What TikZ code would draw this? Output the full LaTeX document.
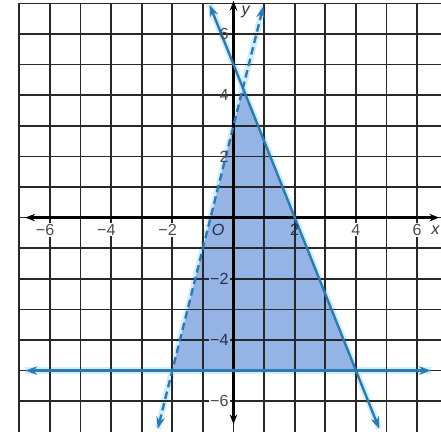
\documentclass[tikz,border=0pt]{standalone}
\usepackage{fontspec}
\setsansfont{Liberation Sans}
\usetikzlibrary{arrows.meta}
\definecolor{lineblue}{RGB}{42,122,180}
\definecolor{shadeblue}{RGB}{148,180,230}
\definecolor{glowblue}{RGB}{210,238,251}
\definecolor{gridc}{RGB}{40,40,40}
\definecolor{labc}{RGB}{75,75,75}
\definecolor{navylab}{RGB}{35,45,80}
\begin{document}
\begin{tikzpicture}[x=1cm,y=1cm,
  gridline/.style={gridc, line width=1.6pt},
  axisline/.style={black, line width=2.4pt, {Stealth[length=9pt,width=7pt]}-{Stealth[length=9pt,width=7pt]}},
  bound/.style={lineblue, line width=2.2pt, {Stealth[length=11pt,width=8pt]}-{Stealth[length=11pt,width=8pt]}},
  halo/.style={glowblue, line width=6pt},
  ticklab/.style={font=\fontsize{15}{15}\selectfont\sffamily, text=labc, inner sep=1pt},
  whitelab/.style={ticklab, fill=white},
  bluelab/.style={ticklab, fill=shadeblue, text=navylab},
  varlab/.style={font=\fontsize{15}{15}\selectfont\sffamily\itshape, text=black!80, inner sep=1pt}]
\useasboundingbox (-7.63,-7.30) rectangle (6.78,7.11);
\fill[white] (-7.63,-7.30) rectangle (6.78,7.11);

% end points of the boundary lines
\coordinate (sTop) at (-0.78,6.95);
\coordinate (sBot) at (4.76,-6.9);
\coordinate (dTop) at (0.975,6.9);
\coordinate (dBot) at (-2.475,-6.9);
\coordinate (hL) at (-6.8,-5);
\coordinate (hR) at (6.45,-5);
\coordinate (xL) at (-6.8,0);
\coordinate (xR) at (6.72,0);
\coordinate (yB) at (0,-6.75);
\coordinate (yT) at (0,7.08);

% vertices of the shaded region
\coordinate (vA) at (-2,-5);
\coordinate (vB) at (4,-5);
\coordinate (vC) at (0.3077,4.2308);

% soft glow round the boundary lines
\draw[halo] (sTop) -- (sBot);
\draw[halo] (dTop) -- (dBot);
\draw[halo] (hL) -- (hR);

% shaded region
\fill[shadeblue] (vA) -- (vB) -- (vC) -- cycle;

% grid
\foreach \i in {-7,...,6} \draw[gridline] (\i,-7) -- (\i,7);
\foreach \j in {-6,...,7} \draw[gridline] (-7,\j) -- (6.78,\j);

% axes
\draw[axisline] (xL) -- (xR);
\draw[axisline] (yB) -- (yT);

% labels lying in the shaded region (drawn before the boundary lines)
\node[bluelab, anchor=east] (ylm4) at (-0.12,-4) {−4};
\node[bluelab, anchor=east] (ylm2) at (-0.12,-2) {−2};

% boundary lines
\draw[bound] (hL) -- (hR);
\draw[bound] (sBot) -- (sTop);
\draw[bound, dash pattern=on 7pt off 4pt] (dBot) -- (dTop);

% x labels
\node[whitelab] (xlm6) at (-6,-0.4) {\llap{−}6};
\node[whitelab] (xlm4) at (-4,-0.4) {\llap{−}4};
\node[whitelab] (xlm2) at (-2,-0.4) {\llap{−}2};
\node[ticklab, text=navylab] (xl2) at (2,-0.4) {2};
\node[whitelab] (xl4) at (4,-0.4) {4};
\node[whitelab] (xl6) at (6,-0.4) {6};
\node[varlab] (xlab) at (6.6,-0.4) {x};
\node[varlab, text=navylab] (olab) at (-0.5,-0.4) {O};

% y labels outside the shaded region
\node[ticklab, anchor=east] (yl2) at (-0.12,2) {2};
\node[ticklab, anchor=east] (yl4) at (-0.12,4) {4};
\node[whitelab, anchor=east] (ylm6) at (-0.12,-6) {−6};
\node[ticklab, anchor=east] (yl6) at (-0.12,6) {6};
\node[varlab] (ylab) at (0.4,6.72) {y};
\end{tikzpicture}
\end{document}
